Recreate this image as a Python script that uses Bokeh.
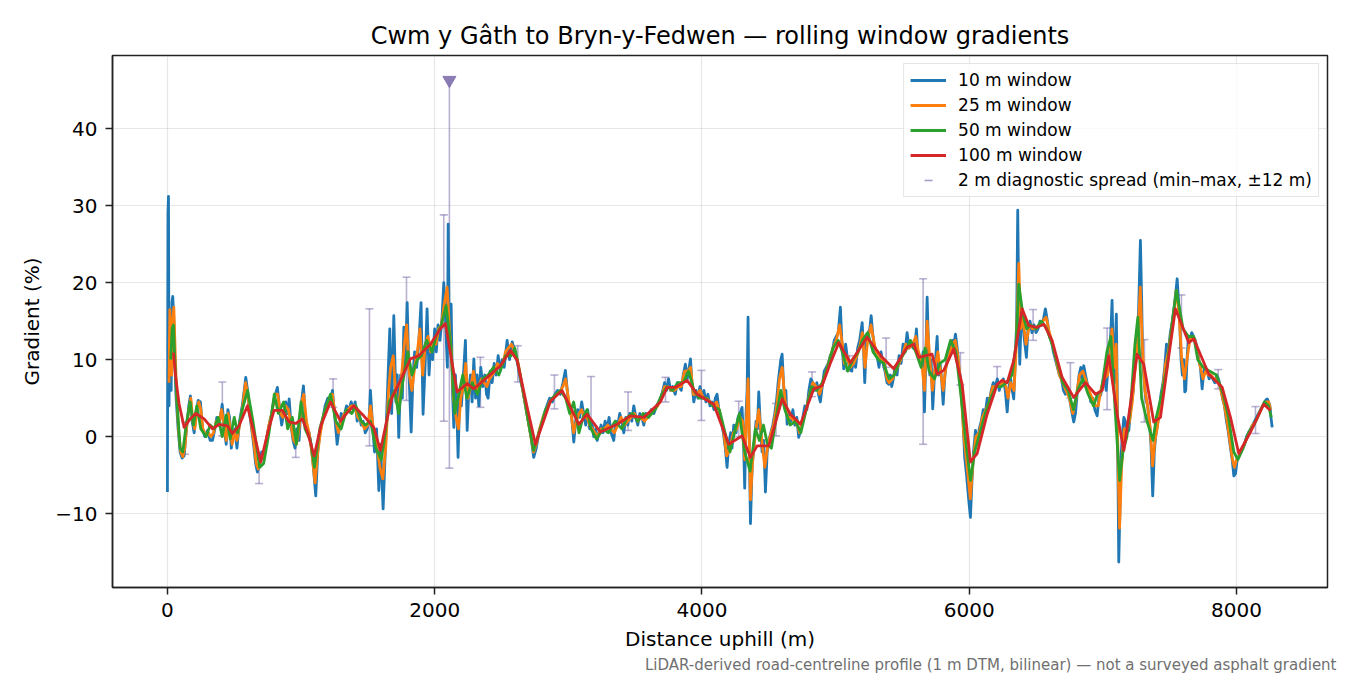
import math
from bokeh.plotting import figure
from bokeh.models import Range1d, FixedTicker, Legend, LegendItem, Title
from bokeh.embed import file_html
from bokeh.resources import INLINE

FONT = "DejaVu Sans"

# 10 m window gradient (%), (distance m, gradient)
w10 = [(0, -7.2), (4, 29.0), (8, 31.2), (12, 4.0), (16, 12.0), (22, 16.5), (28, 6.0), (34, 17.5), (40, 18.2),
       (48, 15.0), (55, 10.0), (65, 5.0), (80, 1.0), (95, -2.0), (110, -2.8), (125, -2.5), (140, 0.5), (160, 4.0),
       (172, 5.3), (185, 2.0), (200, 0.5), (215, 3.0), (230, 4.7), (247, 4.5), (262, 1.0), (280, 0.0), (300, 0.8),
       (320, -0.5), (337, -0.5), (355, 1.0), (370, 2.5), (385, 1.5), (400, 3.0), (410, 4.2), (425, 1.0), (440, -1.0),
       (452, 3.5), (465, 2.5), (478, -1.5), (490, 0.5), (505, 1.0), (520, -1.5), (540, 2.0), (560, 4.0), (575, 6.0),
       (586, 7.7), (600, 6.0), (615, 3.0), (630, 1.0), (645, -1.0), (660, -3.5), (673, -4.6), (690, -3.5), (705, -2.0),
       (720, -3.0), (740, -0.5), (760, 1.5), (780, 3.0), (800, 5.0), (823, 6.4), (840, 3.5), (855, 1.5), (870, 3.0),
       (885, 4.5), (900, 3.0), (911, 4.9), (925, 1.5), (940, -0.5), (955, -1.5), (970, 1.0), (985, -0.5), (1000, 4.0),
       (1018, 6.6), (1030, 3.0), (1045, 1.0), (1060, 0.5), (1075, -1.0), (1090, -3.5), (1110, -7.7), (1125, -2.0),
       (1140, 0.5), (1160, 2.0), (1180, 4.0), (1200, 5.0), (1218, 4.5), (1235, 6.0), (1250, 3.0), (1270, -1.0),
       (1285, 1.0), (1300, 3.0), (1320, 2.5), (1340, 4.0), (1360, 3.5), (1375, 4.5), (1390, 3.5), (1405, 4.5),
       (1420, 2.0), (1435, 3.0), (1450, 1.5), (1465, 2.0), (1480, 0.5), (1495, 1.0), (1510, 2.5), (1519, 6.0),
       (1535, 1.5), (1550, -2.0), (1565, 1.0), (1582, -7.0), (1595, -1.0), (1614, -9.4), (1630, -2.0), (1645, 5.0),
       (1664, 14.0), (1678, 3.0), (1694, 15.7), (1710, 4.5), (1720, 8.0), (1731, -0.1), (1745, 8.0), (1758, 5.0),
       (1769, 14.2), (1780, 9.0), (1794, 17.4), (1808, 8.0), (1824, 0.6), (1838, 8.0), (1850, 11.0), (1865, 9.0),
       (1880, 12.0), (1898, 17.4), (1913, 2.9), (1928, 9.0), (1943, 16.6), (1958, 8.0), (1970, 12.0), (1985, 10.0),
       (2000, 14.0), (2012, 11.0), (2025, 14.5), (2040, 12.5), (2055, 15.5), (2068, 20.0), (2080, 16.0), (2088, 12.0),
       (2095, 9.0), (2101, 27.6), (2110, 12.0), (2123, 17.2), (2133, 6.0), (2143, 1.2), (2155, 8.0), (2165, 4.0),
       (2175, -2.7), (2188, 6.0), (2200, 4.0), (2215, 8.0), (2230, 12.5), (2243, 0.8), (2255, 6.0), (2268, 8.0),
       (2280, 4.5), (2293, 10.1), (2306, 5.0), (2318, 8.0), (2330, 4.0), (2345, 9.0), (2360, 6.5), (2375, 8.0),
       (2388, 5.5), (2400, 5.0), (2415, 8.5), (2430, 7.0), (2445, 9.5), (2460, 8.0), (2475, 10.5), (2490, 8.5),
       (2505, 10.0), (2520, 9.0), (2542, 12.5), (2560, 10.0), (2580, 12.3), (2600, 11.0), (2620, 9.5), (2640, 7.5),
       (2660, 6.0), (2680, 4.0), (2700, 2.0), (2720, 0.0), (2741, -2.7), (2760, -1.5), (2780, 0.5), (2800, 1.5),
       (2820, 3.0), (2840, 4.0), (2860, 5.0), (2880, 4.5), (2900, 5.5), (2920, 6.0), (2940, 5.5), (2960, 7.0),
       (2978, 8.6), (2995, 5.5), (3010, 3.5), (3025, 2.5), (3041, -0.7), (3055, 2.0), (3070, 3.5), (3085, 2.5),
       (3100, 4.5), (3115, 3.0), (3130, 1.5), (3145, 3.5), (3160, 1.0), (3175, 2.0), (3190, 0.0), (3205, 1.0),
       (3216, -0.5), (3230, 0.5), (3245, 1.5), (3260, 0.5), (3275, 2.0), (3290, 1.0), (3305, 2.5), (3320, 0.5),
       (3340, -0.5), (3355, 2.0), (3370, 1.5), (3385, 3.0), (3400, 2.0), (3415, 0.5), (3430, 2.5), (3445, 1.5),
       (3460, 3.0), (3475, 2.0), (3490, 4.0), (3505, 2.5), (3520, 1.5), (3535, 3.0), (3550, 2.5), (3565, 1.5),
       (3580, 3.0), (3600, 2.5), (3620, 3.5), (3640, 3.0), (3660, 4.0), (3680, 4.5), (3700, 5.5), (3720, 7.0),
       (3735, 6.0), (3750, 7.5), (3765, 6.0), (3780, 6.5), (3800, 5.5), (3815, 7.0), (3830, 6.5), (3845, 6.0),
       (3860, 8.0), (3876, 9.4), (3890, 7.5), (3900, 8.5), (3914, 10.1), (3925, 7.0), (3939, 4.5), (3955, 6.0),
       (3970, 5.0), (3985, 6.5), (4000, 5.0), (4015, 6.0), (4030, 4.5), (4045, 5.5), (4060, 4.0), (4075, 4.5),
       (4090, 3.5), (4100, 5.0), (4113, 5.5), (4130, 3.0), (4145, 2.0), (4160, 0.5), (4175, -1.5), (4188, -4.0),
       (4200, -1.0), (4215, 0.5), (4225, -1.5), (4238, 1.5), (4255, 0.5), (4270, 2.5), (4285, 3.0), (4300, 3.8),
       (4310, 0.0), (4320, -6.7), (4330, 3.0), (4338, 6.0), (4345, 15.5), (4352, 2.0), (4363, -11.3), (4375, -4.0),
       (4390, -1.0), (4405, 2.0), (4415, 1.0), (4425, 5.8), (4438, 1.0), (4450, -2.0), (4462, -0.5), (4475, -7.2),
       (4488, -2.0), (4500, -0.5), (4515, 0.5), (4530, 1.5), (4545, 3.0), (4560, 5.0), (4570, 7.0), (4582, 8.8),
       (4590, 10.0), (4600, 10.7), (4610, 7.0), (4620, 4.0), (4628, 6.0), (4637, 1.6), (4650, 3.0), (4665, 2.0),
       (4680, 3.5), (4695, 1.5), (4710, 2.5), (4724, -0.1), (4740, 1.0), (4755, 2.5), (4770, 4.0), (4785, 3.5),
       (4800, 6.0), (4815, 7.5), (4830, 7.0), (4845, 6.0), (4860, 7.0), (4872, 5.5), (4886, 4.5), (4900, 6.5),
       (4915, 8.5), (4930, 9.0), (4945, 9.5), (4960, 10.5), (4975, 11.0), (4990, 12.5), (5005, 13.0), (5020, 13.5),
       (5036, 16.8), (5048, 12.0), (5061, 8.8), (5075, 12.0), (5090, 10.0), (5105, 9.0), (5120, 8.5), (5135, 10.0),
       (5150, 9.0), (5165, 11.5), (5180, 12.5), (5199, 14.8), (5210, 11.0), (5218, 7.0), (5230, 12.0), (5245, 13.5),
       (5256, 14.0), (5266, 15.7), (5280, 13.0), (5295, 11.0), (5310, 10.5), (5325, 9.0), (5340, 11.0), (5355, 9.5),
       (5370, 8.5), (5385, 7.0), (5398, 6.8), (5410, 8.0), (5420, 6.5), (5432, 7.5), (5445, 9.0), (5460, 8.0),
       (5475, 10.5), (5490, 9.5), (5505, 12.0), (5520, 11.0), (5535, 13.5), (5550, 11.5), (5565, 12.0), (5580, 11.5),
       (5595, 12.0), (5605, 14.0), (5615, 11.0), (5630, 10.5), (5645, 9.0), (5655, 11.0), (5665, 3.2), (5675, 10.0),
       (5685, 18.1), (5695, 12.0), (5705, 8.0), (5715, 10.0), (5727, 3.6), (5740, 8.0), (5750, 10.5), (5760, 13.0),
       (5770, 8.0), (5782, 9.5), (5795, 7.0), (5805, 4.2), (5818, 8.0), (5830, 9.5), (5845, 10.5), (5860, 11.5),
       (5875, 12.5), (5885, 12.0), (5897, 13.3), (5910, 11.5), (5922, 9.0), (5935, 7.5), (5950, 3.5), (5966, -2.7),
       (5980, -5.0), (5995, -8.0), (6009, -10.5), (6020, -6.0), (6032, -2.0), (6047, 0.8), (6060, -1.0), (6075, 1.0),
       (6090, 2.0), (6105, 3.5), (6120, 3.0), (6135, 5.0), (6150, 4.5), (6165, 6.0), (6180, 7.0), (6195, 6.5),
       (6210, 7.5), (6225, 6.0), (6240, 7.0), (6255, 7.5), (6270, 6.0), (6284, 3.2), (6298, 6.5), (6310, 7.5),
       (6322, 6.0), (6333, 4.9), (6345, 10.0), (6355, 15.0), (6363, 29.4), (6370, 18.0), (6378, 9.4), (6388, 15.0),
       (6398, 16.0), (6410, 13.0), (6428, 10.3), (6440, 14.0), (6455, 15.0), (6470, 13.5), (6485, 14.5), (6500, 13.5),
       (6515, 14.0), (6530, 15.0), (6545, 14.5), (6558, 15.5), (6570, 16.6), (6585, 15.0), (6600, 13.0), (6615, 12.5),
       (6630, 11.0), (6645, 10.0), (6660, 9.0), (6675, 8.0), (6690, 7.5), (6705, 6.0), (6720, 5.5), (6735, 6.0),
       (6750, 5.0), (6765, 3.5), (6782, 1.9), (6795, 3.0), (6810, 6.0), (6822, 8.0), (6835, 9.0), (6845, 7.0),
       (6857, 9.2), (6870, 8.0), (6882, 7.0), (6895, 6.0), (6910, 4.5), (6925, 5.0), (6940, 3.5), (6957, 2.7),
       (6970, 5.0), (6985, 5.5), (6998, 7.0), (7010, 8.0), (7025, 6.0), (7040, 9.0), (7055, 12.0), (7062, 14.5),
       (7069, 17.7), (7078, 10.0), (7085, 7.0), (7093, 12.0), (7101, 15.9), (7108, 5.0), (7113, -5.0), (7119, -16.3),
       (7127, -10.0), (7135, -3.0), (7145, 0.0), (7157, 2.5), (7168, 2.0), (7180, 0.5), (7194, 0.8), (7205, 3.0),
       (7215, 4.5), (7228, 6.0), (7240, 10.0), (7252, 12.0), (7265, 15.0), (7273, 20.0), (7281, 25.5), (7290, 18.0),
       (7298, 10.0), (7310, 7.0), (7322, 5.0), (7335, 4.0), (7348, 2.0), (7360, -1.0), (7373, -7.7), (7385, -2.0),
       (7395, 0.0), (7408, 1.5), (7420, 3.0), (7435, 5.5), (7450, 7.0), (7463, 9.0), (7476, 12.0), (7490, 11.0),
       (7505, 13.5), (7520, 15.0), (7535, 17.0), (7547, 19.0), (7556, 20.5), (7565, 18.0), (7575, 15.0), (7585, 10.0),
       (7595, 8.0), (7605, 10.0), (7613, 5.8), (7620, 6.0), (7630, 10.0), (7640, 13.0), (7652, 12.5), (7665, 13.5),
       (7678, 13.0), (7692, 12.5), (7705, 11.5), (7718, 10.0), (7730, 9.0), (7743, 6.2), (7755, 8.5), (7768, 9.0),
       (7782, 8.5), (7795, 7.5), (7808, 8.0), (7822, 7.5), (7838, 7.0), (7852, 8.0), (7865, 7.5), (7880, 6.5),
       (7895, 5.0), (7910, 4.0), (7925, 2.0), (7940, 0.5), (7955, -1.5), (7968, -3.0), (7980, -5.1), (7993, -4.8),
       (8005, -3.0), (8018, -2.5), (8030, -2.0), (8045, -1.5), (8060, -1.0), (8075, 0.0), (8090, 0.5), (8105, 1.0),
       (8120, 1.5), (8135, 2.0), (8150, 2.5), (8165, 3.0), (8180, 3.5), (8195, 4.0), (8210, 4.5), (8222, 4.8),
       (8230, 4.9), (8240, 4.5), (8250, 4.0), (8258, 2.5), (8267, 1.2)]

# 25 m window
w25 = [(12, 7.0), (18, 16.5), (25, 12.0), (32, 8.0), (40, 15.0), (48, 16.8), (58, 11.0), (70, 5.0), (85, 0.5),
       (100, -2.0), (115, -2.6), (130, -1.5), (145, 1.5), (160, 3.5), (175, 5.0), (190, 2.0), (205, 1.0), (220, 3.5),
       (235, 4.5), (250, 3.5), (265, 1.0), (285, 0.3), (305, 0.5), (325, 0.0), (345, 0.5), (365, 2.0), (385, 1.5),
       (405, 3.5), (420, 2.0), (440, -0.5), (455, 3.0), (470, 1.0), (485, -1.0), (500, 0.5), (520, -0.5), (540, 1.5),
       (560, 3.5), (585, 7.0), (605, 5.0), (625, 2.0), (645, -0.5), (665, -3.5), (680, -4.2), (700, -3.0),
       (720, -2.5), (740, -0.5), (760, 1.5), (780, 3.0), (805, 5.5), (825, 5.5), (845, 3.0), (865, 2.5), (885, 4.0),
       (905, 3.5), (925, 1.5), (945, -0.5), (965, -1.0), (985, 1.0), (1005, 4.5), (1020, 5.5), (1040, 2.0),
       (1060, 0.5), (1080, -2.0), (1105, -6.0), (1125, -2.0), (1145, 0.5), (1165, 2.5), (1190, 4.0), (1215, 5.0),
       (1235, 5.5), (1260, 2.0), (1280, 0.5), (1300, 2.0), (1325, 3.0), (1350, 3.5), (1375, 4.0), (1400, 4.0),
       (1425, 2.5), (1450, 2.0), (1475, 1.0), (1500, 1.5), (1520, 4.0), (1545, 0.5), (1570, -1.5), (1590, -4.0),
       (1612, -5.5), (1635, -1.0), (1655, 6.0), (1670, 9.0), (1690, 10.5), (1710, 5.0), (1730, 3.5), (1750, 7.5),
       (1770, 11.5), (1790, 14.5), (1810, 8.0), (1830, 6.0), (1850, 9.0), (1870, 11.0), (1890, 14.0), (1910, 8.0),
       (1930, 12.0), (1950, 13.0), (1970, 11.0), (1990, 12.5), (2010, 12.0), (2030, 14.0), (2050, 14.5),
       (2070, 17.0), (2093, 19.4), (2110, 14.0), (2125, 11.0), (2140, 5.0), (2160, 2.5), (2178, 1.0), (2195, 5.0),
       (2215, 6.5), (2232, 9.5), (2250, 5.0), (2270, 6.5), (2290, 8.5), (2310, 6.0), (2330, 6.5), (2350, 7.5),
       (2370, 7.0), (2390, 6.5), (2410, 7.5), (2430, 8.0), (2450, 8.5), (2470, 9.5), (2490, 9.0), (2510, 9.5),
       (2530, 11.0), (2550, 11.5), (2575, 12.0), (2600, 11.0), (2625, 9.5), (2650, 7.0), (2675, 4.5), (2700, 2.0),
       (2720, 0.0), (2740, -2.0), (2760, -1.0), (2785, 1.0), (2810, 2.5), (2835, 3.5), (2860, 4.5), (2885, 5.0),
       (2910, 5.5), (2935, 5.8), (2960, 6.5), (2980, 7.5), (3000, 5.0), (3020, 3.0), (3040, 0.5), (3060, 2.0),
       (3080, 3.0), (3100, 3.5), (3120, 2.5), (3140, 2.5), (3160, 1.5), (3180, 1.0), (3200, 0.5), (3220, 0.0),
       (3245, 1.0), (3270, 1.0), (3295, 1.5), (3320, 1.0), (3345, 0.5), (3370, 1.5), (3395, 2.5), (3420, 1.5),
       (3445, 2.0), (3470, 2.5), (3495, 3.0), (3520, 2.0), (3545, 2.5), (3570, 2.0), (3595, 2.5), (3620, 3.0),
       (3645, 3.5), (3670, 4.0), (3695, 5.0), (3720, 6.5), (3745, 6.5), (3770, 6.0), (3795, 6.0), (3820, 6.5),
       (3845, 6.5), (3870, 8.5), (3895, 8.5), (3915, 9.0), (3935, 5.5), (3960, 5.5), (3985, 6.0), (4010, 5.0),
       (4035, 5.0), (4060, 4.5), (4085, 4.0), (4110, 4.5), (4135, 3.0), (4160, 1.0), (4185, -2.5), (4210, -1.5),
       (4235, 0.5), (4260, 1.0), (4285, 2.5), (4305, 2.0), (4320, -3.0), (4335, 3.0), (4345, 7.5), (4363, -8.2),
       (4380, -3.0), (4400, 0.5), (4425, 3.5), (4445, 0.0), (4470, -4.0), (4490, -1.5), (4510, 0.0), (4535, 1.5),
       (4560, 4.0), (4580, 7.5), (4600, 9.0), (4620, 5.0), (4640, 2.5), (4665, 2.5), (4690, 2.0), (4715, 1.5),
       (4730, 0.5), (4755, 2.0), (4780, 3.5), (4805, 5.5), (4830, 7.0), (4855, 6.5), (4880, 5.5), (4905, 7.0),
       (4930, 8.5), (4955, 10.0), (4980, 11.5), (5005, 12.5), (5030, 14.5), (5050, 12.0), (5065, 9.5), (5085, 10.5),
       (5110, 9.0), (5135, 9.5), (5160, 10.5), (5185, 12.0), (5200, 13.5), (5220, 9.0), (5240, 12.5), (5265, 14.5),
       (5285, 12.5), (5310, 10.5), (5335, 10.0), (5360, 10.0), (5385, 7.5), (5400, 7.0), (5425, 7.5), (5450, 8.5),
       (5475, 9.5), (5500, 10.5), (5525, 12.0), (5550, 11.5), (5575, 12.0), (5600, 13.0), (5620, 11.0), (5645, 9.5),
       (5665, 6.0), (5685, 15.0), (5705, 10.0), (5725, 6.0), (5745, 9.0), (5765, 11.0), (5785, 8.5), (5805, 6.0),
       (5825, 9.0), (5850, 10.5), (5875, 12.0), (5895, 12.5), (5915, 10.5), (5935, 7.0), (5960, 0.0), (5985, -4.0),
       (6008, -8.1), (6030, -3.0), (6050, 0.0), (6075, 0.5), (6100, 2.5), (6125, 3.5), (6150, 4.5), (6175, 6.5),
       (6200, 6.5), (6225, 6.5), (6250, 7.0), (6275, 6.5), (6290, 5.0), (6310, 7.0), (6335, 6.0), (6350, 11.0),
       (6371, 22.5), (6385, 14.0), (6400, 15.5), (6425, 12.0), (6450, 14.5), (6475, 14.0), (6500, 14.0),
       (6525, 14.5), (6550, 15.0), (6575, 15.5), (6600, 13.5), (6625, 12.0), (6650, 10.0), (6675, 8.0), (6700, 7.0),
       (6725, 6.0), (6750, 5.0), (6775, 3.0), (6800, 5.0), (6825, 8.0), (6850, 8.5), (6870, 7.5), (6895, 6.0),
       (6920, 5.0), (6945, 4.0), (6965, 4.0), (6990, 6.5), (7010, 7.5), (7035, 8.0), (7055, 11.0), (7068, 14.0),
       (7085, 9.0), (7100, 12.0), (7113, -3.0), (7125, -11.9), (7140, -4.0), (7160, 1.0), (7180, 1.0), (7200, 2.0),
       (7220, 4.5), (7240, 8.5), (7260, 12.0), (7280, 19.4), (7295, 12.0), (7315, 6.0), (7335, 4.0), (7355, 1.0),
       (7372, -3.8), (7390, -0.5), (7410, 1.5), (7430, 4.0), (7450, 6.5), (7470, 9.5), (7490, 11.0), (7510, 13.5),
       (7530, 16.0), (7550, 19.0), (7570, 16.0), (7590, 10.0), (7610, 7.5), (7630, 10.0), (7650, 12.5), (7670, 13.0),
       (7690, 12.5), (7710, 10.5), (7730, 9.0), (7750, 7.5), (7770, 8.5), (7790, 8.0), (7810, 8.0), (7830, 7.5),
       (7850, 7.5), (7870, 7.0), (7890, 5.5), (7910, 4.0), (7930, 2.0), (7950, -0.5), (7970, -3.0), (7985, -4.0),
       (8000, -3.0), (8020, -2.5), (8045, -1.5), (8070, -0.5), (8095, 0.5), (8120, 1.5), (8145, 2.0), (8170, 3.0),
       (8195, 4.0), (8220, 4.5), (8240, 4.5), (8255, 3.5)]

# 50 m window
w50 = [(25, 10.0), (35, 14.0), (45, 14.5), (55, 10.0), (70, 5.0), (95, -1.5), (115, -2.0), (140, 1.5), (170, 4.5),
       (195, 1.5), (220, 4.0), (250, 1.0), (290, 0.0), (320, 1.5), (350, 1.0), (380, 2.5), (410, 0.0), (440, 2.8),
       (470, -0.3), (500, 2.5), (525, 0.5), (560, 3.5), (600, 6.0), (640, 2.0), (690, -4.0), (720, -3.5), (760, 0.5),
       (800, 5.5), (830, 3.0), (870, 4.5), (900, 1.0), (935, 2.5), (965, -1.0), (1000, 4.5), (1030, 1.0),
       (1070, -0.5), (1100, -4.0), (1140, 1.0), (1180, 3.5), (1220, 5.5), (1260, 2.0), (1300, 1.0), (1340, 3.5),
       (1380, 3.0), (1410, 4.0), (1450, 2.0), (1480, 1.5), (1520, 2.0), (1560, -1.5), (1600, -3.0), (1630, 0.5),
       (1660, 4.5), (1700, 6.0), (1730, 3.0), (1760, 7.0), (1800, 11.0), (1830, 8.0), (1870, 10.0), (1900, 10.5),
       (1940, 12.5), (1980, 11.0), (2010, 13.0), (2050, 14.5), (2085, 17.0), (2120, 12.0), (2150, 3.0), (2180, 5.5),
       (2210, 8.0), (2240, 5.0), (2280, 7.0), (2320, 5.5), (2360, 7.5), (2400, 8.0), (2440, 9.0), (2480, 8.0),
       (2530, 10.5), (2570, 10.5), (2600, 11.5), (2640, 8.0), (2690, 3.0), (2740, -1.8), (2780, 0.5), (2830, 3.5),
       (2880, 5.0), (2940, 6.0), (2980, 5.0), (3010, 3.0), (3040, 4.5), (3080, 0.5), (3110, 2.5), (3140, 3.5),
       (3170, 1.0), (3210, -0.3), (3260, 1.0), (3300, 0.5), (3350, 2.0), (3400, 1.0), (3440, 2.5), (3480, 3.0),
       (3520, 2.0), (3560, 3.0), (3600, 2.5), (3650, 3.5), (3700, 5.5), (3740, 6.5), (3780, 6.0), (3820, 7.0),
       (3860, 7.0), (3900, 8.5), (3940, 6.0), (3980, 5.0), (4030, 5.0), (4080, 4.0), (4130, 3.5), (4180, 0.0),
       (4210, -2.0), (4250, 1.0), (4280, 3.0), (4320, -2.0), (4360, -4.5), (4400, 1.0), (4430, -0.5), (4460, 1.5),
       (4490, -1.0), (4520, -1.5), (4560, 3.0), (4590, 6.0), (4620, 3.5), (4660, 1.5), (4700, 2.0), (4740, 0.5),
       (4780, 3.5), (4820, 6.5), (4860, 6.0), (4900, 7.0), (4940, 9.0), (4980, 11.5), (5020, 12.5), (5050, 11.0),
       (5090, 8.5), (5130, 10.0), (5170, 11.0), (5200, 12.5), (5240, 13.5), (5280, 11.0), (5320, 10.0), (5360, 9.5),
       (5400, 7.5), (5440, 8.0), (5480, 10.0), (5520, 11.0), (5560, 12.5), (5600, 11.0), (5640, 9.0), (5670, 11.5),
       (5700, 8.5), (5740, 7.5), (5780, 9.5), (5820, 10.0), (5860, 12.5), (5900, 11.0), (5940, 5.0), (5980, -1.5),
       (6010, -5.7), (6040, -2.0), (6080, 0.5), (6120, 3.0), (6160, 5.0), (6200, 6.5), (6240, 6.5), (6280, 7.0),
       (6320, 8.0), (6350, 12.0), (6371, 19.8), (6400, 16.0), (6430, 14.0), (6460, 14.5), (6500, 14.0), (6540, 15.0),
       (6580, 14.0), (6620, 12.0), (6660, 9.5), (6700, 7.0), (6740, 6.0), (6780, 3.5), (6810, 6.0), (6850, 7.5),
       (6890, 5.5), (6930, 4.0), (6960, 5.5), (6990, 6.0), (7030, 11.0), (7060, 13.0), (7090, 4.0), (7125, -5.7),
       (7150, -2.0), (7180, 0.0), (7210, 4.5), (7240, 12.0), (7262, 15.5), (7290, 5.0), (7330, 2.0), (7375, -0.5),
       (7400, 2.5), (7440, 5.5), (7480, 9.0), (7520, 15.0), (7550, 19.0), (7600, 14.0), (7640, 13.0), (7680, 13.0),
       (7710, 10.0), (7750, 9.0), (7800, 8.5), (7850, 8.0), (7900, 5.5), (7940, 2.5), (7980, -2.0), (8010, -3.0),
       (8050, -1.5), (8090, 0.5), (8130, 1.5), (8170, 3.0), (8210, 4.5), (8240, 4.0), (8260, 2.5)]

# 100 m window
w100 = [(45, 10.9), (62, 7.7), (87, 4.3), (125, 1.2), (170, 2.3), (212, 3.0), (275, 2.3), (337, 1.0), (387, 1.6),
        (449, 1.4), (486, 0.4), (536, 1.4), (599, 4.0), (650, 0.3), (698, -3.3), (750, 0.5), (798, 3.4), (860, 3.4),
        (911, 1.9), (960, 1.7), (1010, 2.3), (1050, 0.5), (1098, -2.5), (1150, 1.5), (1220, 4.5), (1295, 2.0),
        (1350, 3.2), (1394, 4.0), (1469, 2.7), (1544, 1.2), (1594, -1.8), (1640, 2.0), (1681, 5.1), (1744, 7.3),
        (1818, 10.1), (1881, 10.5), (1968, 12.0), (2043, 14.0), (2080, 14.7), (2118, 10.8), (2168, 5.8), (2243, 6.9),
        (2293, 6.2), (2393, 7.7), (2492, 9.2), (2567, 11.2), (2617, 9.9), (2692, 3.8), (2754, -1.0), (2816, 2.1),
        (2866, 4.6), (2953, 6.0), (3016, 3.8), (3078, 1.6), (3141, 2.9), (3240, 0.6), (3365, 1.6), (3465, 2.7),
        (3565, 2.5), (3689, 4.5), (3739, 6.4), (3802, 6.4), (3889, 7.3), (3964, 5.5), (4088, 4.2), (4200, -1.0),
        (4300, 0.1), (4363, -2.7), (4413, -1.2), (4500, -1.2), (4550, 1.8), (4600, 4.9), (4662, 2.9), (4737, 1.6),
        (4837, 6.2), (4899, 6.6), (4960, 9.5), (5024, 12.2), (5111, 9.6), (5236, 12.9), (5348, 10.3), (5435, 8.8),
        (5535, 11.6), (5585, 12.0), (5622, 10.3), (5722, 10.7), (5760, 8.1), (5809, 8.6), (5884, 11.4), (5947, 6.8),
        (6009, -3.3), (6059, -2.2), (6134, 2.9), (6209, 6.8), (6246, 7.3), (6284, 7.0), (6333, 9.9), (6396, 16.6),
        (6446, 14.4), (6508, 14.2), (6558, 14.6), (6620, 12.5), (6695, 7.7), (6782, 5.1), (6870, 7.0), (6945, 5.5),
        (6995, 6.0), (7044, 10.5), (7107, 2.9), (7157, -1.8), (7206, 4.2), (7256, 10.7), (7306, 9.4), (7381, 1.9),
        (7431, 2.5), (7490, 10.0), (7543, 16.6), (7643, 12.2), (7680, 12.7), (7793, 8.1), (7893, 6.4), (7955, 2.5),
        (8017, -2.2), (8105, 0.6), (8204, 4.2), (8254, 3.4)]

# 2 m diagnostic spread (min-max within +-12 m)
spread_x = [132, 411, 686, 960, 1240, 1512, 1789, 2068, 2110, 2342, 2622, 2896, 3170, 3447, 3727, 3996,
            4275, 4554, 4824, 5104, 5378, 5655, 5934, 6209, 6478, 6757, 7032, 7311, 7588, 7863, 8142]
spread_lo = [-2.3, 0.1, -6.1, -2.7, 3.8, -1.2, 4.7, 2.0, -4.1, 3.8, 7.1, 3.6, 1.3, 0.8, 4.5, 2.1,
             0.0, 0.1, 5.2, 8.5, 9.0, -1.0, 6.7, 6.5, 12.5, 5.0, 3.5, 1.9, 11.5, 6.2, 0.4]
spread_hi = [1.9, 7.1, -3.5, 1.0, 7.5, 16.6, 20.7, 28.8, 46.3, 10.3, 11.8, 8.0, 7.8, 5.8, 7.7, 8.6,
             4.6, 4.3, 8.4, 10.5, 12.8, 20.5, 10.9, 9.1, 16.5, 9.6, 14.1, 12.6, 18.4, 8.7, 3.9]
# spreads whose top runs off the chart
clipped_x = [2110]
clipped_y = [46.3]

x_ticks = [0, 2000, 4000, 6000, 8000]
y_ticks = [-10, 0, 10, 20, 30, 40]

series = [("10 m window", w10, "#1f77b4"), ("25 m window", w25, "#ff7f0e"),
          ("50 m window", w50, "#2ca02c"), ("100 m window", w100, "#d62728")]
SPREAD = "#8070ad"

p = figure(width=1340, height=675, x_range=Range1d(-411, 8681), y_range=Range1d(-19.6, 49.5),
           output_backend="svg", toolbar_location=None,
           min_border_left=112, min_border_right=13, min_border_top=55, min_border_bottom=88)
p.background_fill_color = "white"
p.border_fill_color = "white"
p.outline_line_color = "#222222"
p.outline_line_width = 1.5

p.title.text = "Cwm y Gâth to Bryn-y-Fedwen — rolling window gradients"
p.title.align = "center"
p.title.text_font = FONT
p.title.text_font_size = "24px"
p.title.text_font_style = "normal"
p.title.text_color = "black"
p.title.standoff = 11

# spread bars behind the lines
top_caps = [(x, h) for x, h in zip(spread_x, spread_hi) if x not in clipped_x]
p.segment(x0=spread_x, y0=spread_lo, x1=spread_x, y1=spread_hi, line_color=SPREAD, line_alpha=0.55, line_width=1.6)
p.scatter(x=spread_x, y=spread_lo, marker="dash", size=8, line_color=SPREAD, line_alpha=0.55, line_width=1.6)
p.scatter(x=[c[0] for c in top_caps], y=[c[1] for c in top_caps], marker="dash", size=8,
          line_color=SPREAD, line_alpha=0.55, line_width=1.6)
p.scatter(x=clipped_x, y=clipped_y, marker="inverted_triangle", size=13, fill_color=SPREAD, line_color=SPREAD,
          fill_alpha=0.9, line_alpha=0.9)
spread_icon = p.scatter(x=[spread_x[0]], y=[spread_lo[0]], marker="dash", size=0, angle=math.pi / 2,
                        line_color=SPREAD, line_alpha=0.7, line_width=1.6)

items = []
for label, pts, color in series:
    r = p.line(x=[q[0] for q in pts], y=[q[1] for q in pts], line_color=color, line_width=2.8, line_join="round")
    items.append(LegendItem(label=label, renderers=[r]))
items.append(LegendItem(label="2 m diagnostic spread (min–max, ±12 m)", renderers=[spread_icon]))

legend = Legend(items=items, location="top_right")
legend.label_text_font = FONT
legend.label_text_font_size = "17px"
legend.label_text_color = "black"
legend.glyph_width = 36
legend.glyph_height = 20
legend.label_height = 20
legend.spacing = 5
legend.padding = 6
legend.label_standoff = 12
legend.margin = 8
legend.border_line_color = "#cccccc"
legend.border_line_width = 1
legend.background_fill_alpha = 0.8
p.add_layout(legend)

p.xaxis.ticker = FixedTicker(ticks=x_ticks)
p.yaxis.ticker = FixedTicker(ticks=y_ticks)
p.yaxis.major_label_overrides = {-10: "−10"}
p.xgrid.ticker = FixedTicker(ticks=x_ticks)
p.ygrid.ticker = FixedTicker(ticks=y_ticks)
p.grid.grid_line_color = "#b0b0b0"
p.grid.grid_line_alpha = 0.3
p.grid.grid_line_width = 1.2

p.xaxis.axis_label = "Distance uphill (m)"
p.yaxis.axis_label = "Gradient (%)"
for ax in (p.xaxis, p.yaxis):
    ax.axis_label_text_font = FONT
    ax.axis_label_text_font_size = "20px"
    ax.axis_label_text_font_style = "normal"
    ax.axis_label_text_color = "black"
    ax.major_label_text_font = FONT
    ax.major_label_text_font_size = "20px"
    ax.major_label_text_color = "black"
    ax.axis_line_color = "#222222"
    ax.axis_line_width = 1.5
    ax.major_tick_line_color = "#222222"
    ax.major_tick_line_width = 1.5
    ax.major_tick_out = 7
    ax.major_tick_in = 0
    ax.minor_tick_line_color = None
    ax.major_label_standoff = 8
p.xaxis.axis_label_standoff = 7
p.yaxis.axis_label_standoff = 8

footer = Title(text="LiDAR-derived road-centreline profile (1 m DTM, bilinear) — not a surveyed asphalt gradient",
               align="right", text_font=FONT, text_font_size="15px", text_font_style="normal",
               text_color="#707070", offset=-9, standoff=0, text_line_height=0.8)
p.add_layout(footer, "below")

open("out.html", "w").write(file_html(p, INLINE))
